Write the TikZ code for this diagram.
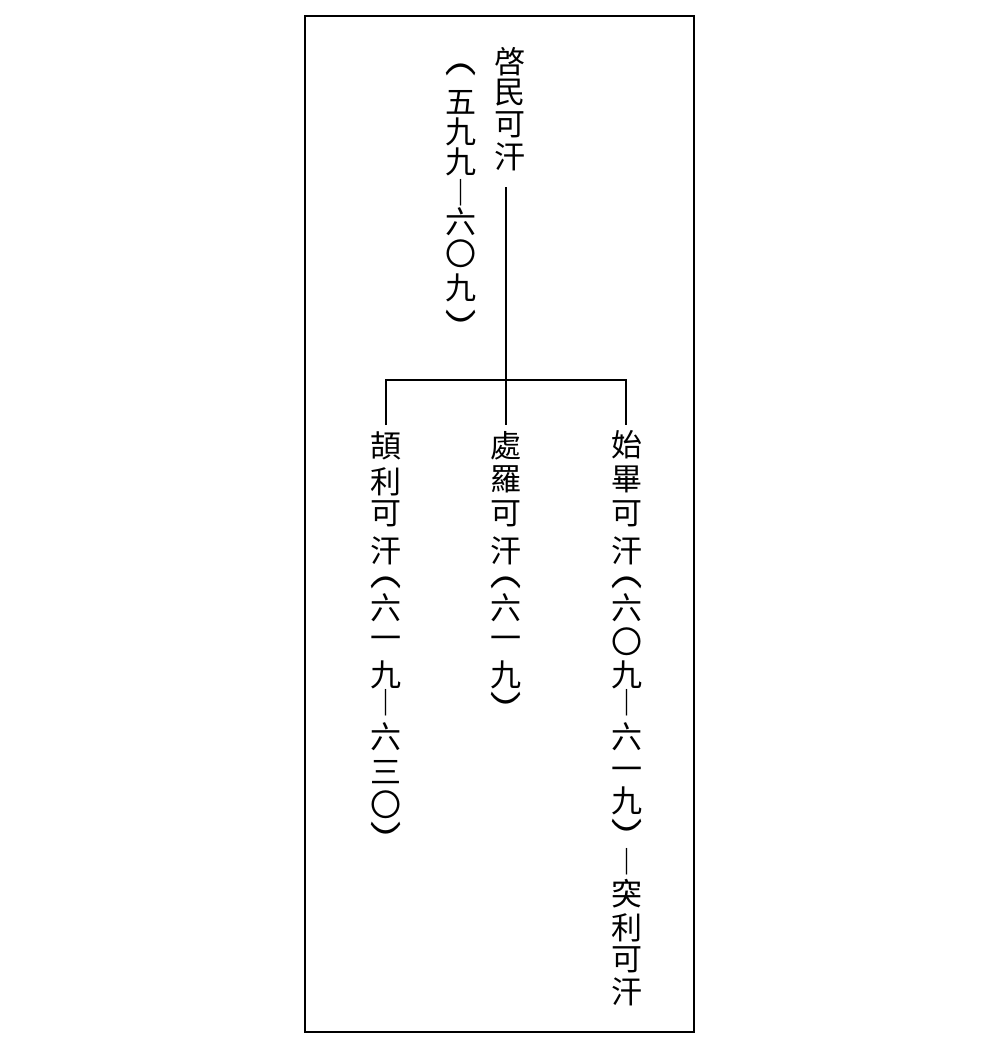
\documentclass[tikz,border=0pt]{standalone}
\usepackage{fontspec}
\newfontfamily\cjk{Noto Sans CJK TC}
\tikzset{
  x=1pt, y=-1pt,
  ch/.style={inner sep=0pt, outer sep=0pt, font=\cjk\fontsize{31}{31}\selectfont},
  n/.style={},
  cp/.style={rotate=180},
  low/.style={yshift=-6pt},
  link/.style={line width=2pt},
  framebox/.style={draw, line width=2.5pt, inner sep=0pt, outer sep=0pt, anchor=north west}
}
\newcommand{\myopar}{\scalebox{1}[1.5]{︵}}
\newcommand{\myvdash}{︱}
\begin{document}
\begin{tikzpicture}
\useasboundingbox (0,0) rectangle (1000,1050);
\node[framebox, minimum width=389pt, minimum height=1016pt] (frame) at (305,16) {};
% 啓民可汗
\foreach \c/\y [count=\i] in {啓/62,民/93,可/125,汗/157}
  \node[ch] (pa\i) at (510,\y) {\c};
\foreach \c/\y/\o [count=\i] in {\myopar/70/n,五/102/n,九/132/n,九/162/n,\myvdash/193/n,六/222/n,〇/254/n,九/288/n,\myopar/316/cp}
  \node[ch,\o] (pd\i) at (461,\y) {\c};
% 頡利可汗
\foreach \c/\y/\o [count=\i] in {頡/446/n,利/482/n,可/514/n,汗/551/n,\myopar/583/n,六/608/n,一/637/low,九/675/n,\myvdash/703/n,六/737/n,三/772/n,〇/805/n,\myopar/828/cp}
  \node[ch,\o] (ka\i) at (386,\y) {\c};
% 處羅可汗
\foreach \c/\y/\o [count=\i] in {處/446/n,羅/479/n,可/514/n,汗/551/n,\myopar/583/n,六/608/n,一/637/low,九/675/n,\myopar/698/cp}
  \node[ch,\o] (ca\i) at (506,\y) {\c};
% 始畢可汗
\foreach \c/\y/\o [count=\i] in {始/445/n,畢/479/n,可/514/n,汗/551/n,\myopar/583/n,六/608/n,〇/642/n,九/675/n,\myvdash/703/n,六/737/n,一/768/low,九/801/n,\myopar/825/cp,\myvdash/862/n,突/894/n,利/928/n,可/960/n,汗/992/n}
  \node[ch,\o] (sa\i) at (627,\y) {\c};
% connectors
\coordinate (pbot) at (506,187);
\coordinate (j) at (506,380);
\coordinate (c1) at (386,425);
\coordinate (c2) at (506,425);
\coordinate (c3) at (626,425);
\draw[link] (pbot) -- (c2);
\draw[link] (c1) |- (j) -| (c3);
\end{tikzpicture}
\end{document}
